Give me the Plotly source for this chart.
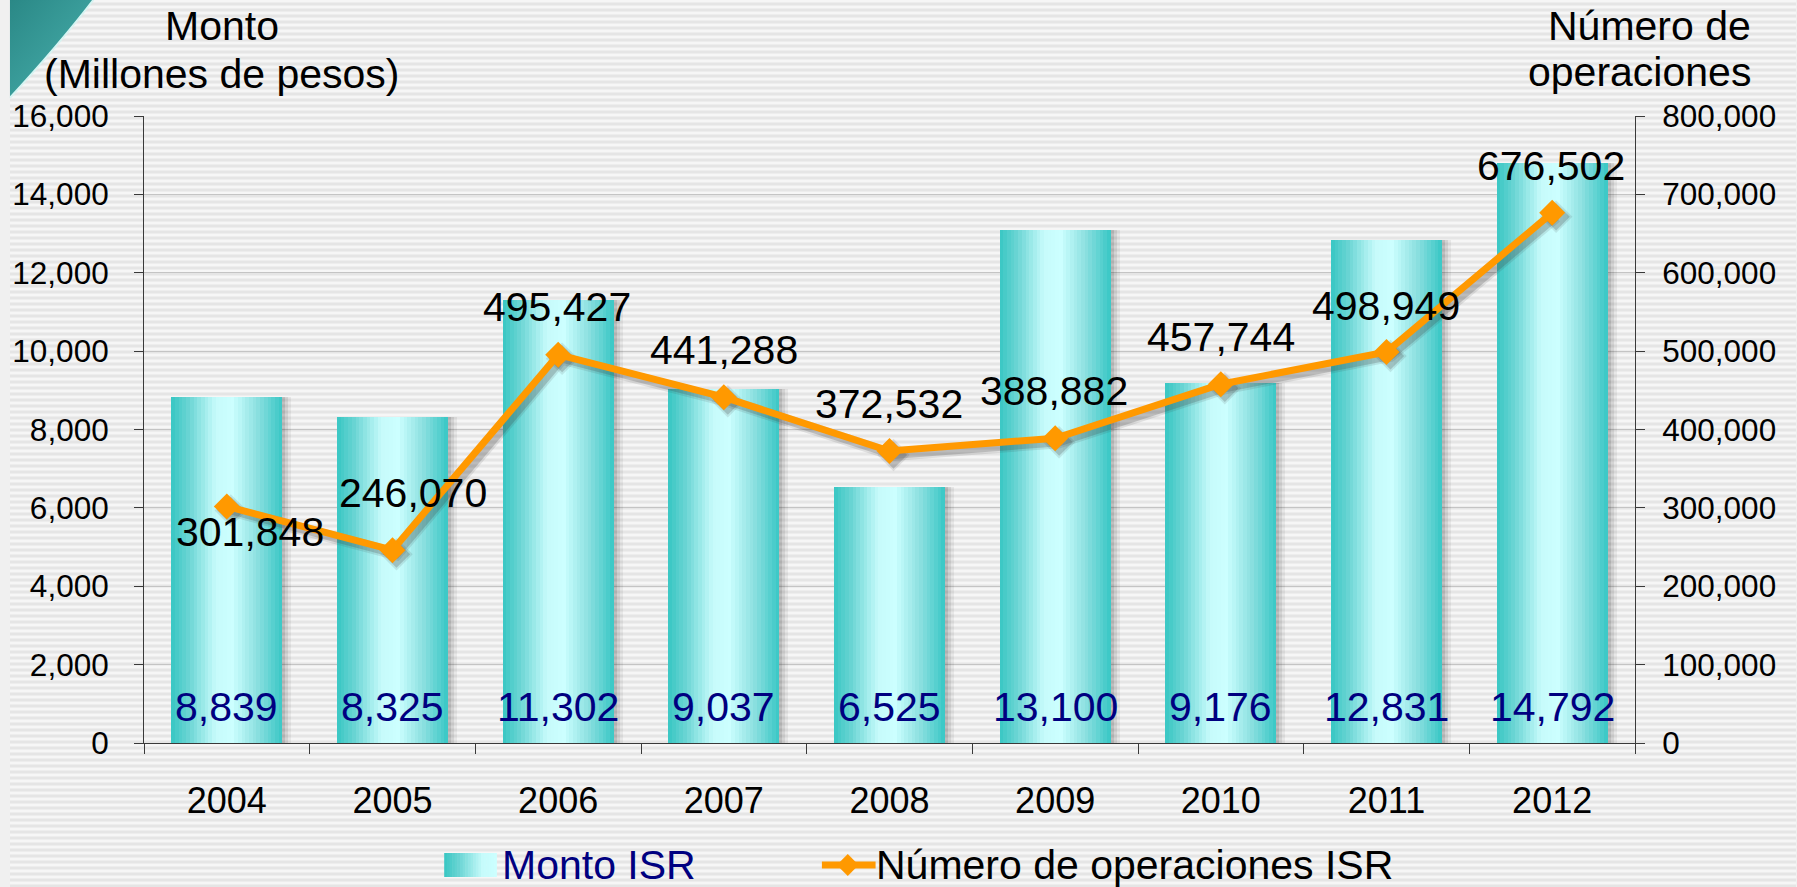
import base64
import plotly.graph_objects as go

# ---- data -------------------------------------------------------------
years = ["2004", "2005", "2006", "2007", "2008", "2009", "2010", "2011", "2012"]
monto_isr = [8839, 8325, 11302, 9037, 6525, 13100, 9176, 12831, 14792]
operaciones_isr = [301848, 246070, 495427, 441288, 372532, 388882, 457744, 498949, 676502]

monto_ticks = [0, 2000, 4000, 6000, 8000, 10000, 12000, 14000, 16000]
oper_ticks = [0, 100000, 200000, 300000, 400000, 500000, 600000, 700000, 800000]

# pixel offsets of the line's value labels relative to each point
oper_label_dx = [23, 20, -1, 0, -1, -1, 0, -1, -1]
oper_label_dy = [-26, 57, 48, 47, 47, 47, 47, 46, 47]

# ---- page geometry ----------------------------------------------------
W, H = 1797, 887
ML, MR, MT, MB = 135, 162, 116, 144
PW, PH = W - ML - MR, H - MT - MB


def px_x(p):
    return (p - ML) / PW


def px_y(p):
    return (H - MB - p) / PH


FONT = "Arial, 'Liberation Sans', sans-serif"
AXIS_COLOR = "#3a3a3a"
ORANGE = "#ff9900"
NAVY = "#000080"

BAR_W = 0.67
X_PER_PX = len(years) / PW
idx = list(range(len(years)))

# horizontal "cylinder" gradient of the bars
grad_stops = [
    (0.00, (0x38, 0xc6, 0xc3)),
    (0.15, (0x68, 0xd4, 0xd3)),
    (0.40, (0xc6, 0xfb, 0xfb)),
    (0.55, (0xcc, 0xff, 0xff)),
    (0.78, (0x8a, 0xdf, 0xdf)),
    (1.00, (0x38, 0xc7, 0xc5)),
]


def grad_color(t):
    for (t0, c0), (t1, c1) in zip(grad_stops[:-1], grad_stops[1:]):
        if t0 <= t <= t1:
            f = (t - t0) / (t1 - t0) if t1 > t0 else 0
            r, g, b = (round(a + (b_ - a) * f) for a, b_ in zip(c0, c1))
            return f"rgb({r},{g},{b})"
    r, g, b = grad_stops[-1][1]
    return f"rgb({r},{g},{b})"


fig = go.Figure()

# soft drop shadow to the right of every bar
for k, alpha in enumerate([0.10, 0.08, 0.06]):
    fig.add_trace(go.Bar(
        x=years, y=monto_isr, width=BAR_W,
        offset=-BAR_W / 2 + (3 + 3 * k) * X_PER_PX,
        marker=dict(color=f"rgba(0,0,0,{alpha})", line=dict(width=0)),
        showlegend=False, hoverinfo="skip",
    ))

# bars built from thin vertical strips to get the gradient fill
N_STRIPS = 30
strip = BAR_W / N_STRIPS
for k in range(N_STRIPS):
    w = strip * 1.15 if k < N_STRIPS - 1 else strip
    fig.add_trace(go.Bar(
        x=years, y=monto_isr, width=w, offset=-BAR_W / 2 + k * strip,
        marker=dict(color=grad_color((k + 0.5) / N_STRIPS), line=dict(width=0)),
        name="Monto ISR", showlegend=False, hoverinfo="skip",
    ))

# blurred shadow of the line (axes x2/y3 are shifted a few pixels right and
# down); the line itself sits on x3/y2 so it is layered above its shadow
SH = 4
for lw, ms, alpha in [(12, 25, 0.12), (8, 21, 0.22)]:
    fig.add_trace(go.Scatter(
        x=years, y=operaciones_isr, xaxis="x2", yaxis="y3", mode="lines+markers",
        line=dict(color=f"rgba(60,60,60,{alpha})", width=lw),
        marker=dict(symbol="diamond", size=ms, color=f"rgba(60,60,60,{alpha})"),
        showlegend=False, hoverinfo="skip",
    ))
fig.add_trace(go.Scatter(
    x=years, y=operaciones_isr, xaxis="x3", yaxis="y2", mode="lines+markers",
    name="Número de operaciones ISR",
    line=dict(color=ORANGE, width=7),
    marker=dict(symbol="diamond", size=20, color=ORANGE, line=dict(width=0)),
    showlegend=False,
))

annotations = []
for i, v in zip(idx, monto_isr):
    annotations.append(dict(
        x=i, y=0, xref="x", yref="y", yshift=36, text=f"{v:,}", showarrow=False,
        font=dict(family=FONT, size=41, color=NAVY), xanchor="center", yanchor="middle",
    ))
for i, v, dx, dy in zip(idx, operaciones_isr, oper_label_dx, oper_label_dy):
    annotations.append(dict(
        x=i, y=v, xref="x", yref="y2", xshift=dx, yshift=dy, text=f"{v:,}",
        showarrow=False, font=dict(family=FONT, size=41, color="black"),
        xanchor="center", yanchor="middle",
    ))

title_font = dict(family=FONT, size=41, color="black")
for txt, x, y, anchor in [
    ("Monto", 213, 26, "center"),
    ("(Millones de pesos)", 213, 74, "center"),
    ("Número de", 1754, 26, "right"),
    ("operaciones", 1754, 72, "right"),
]:
    annotations.append(dict(
        x=px_x(x), y=px_y(y), xref="paper", yref="paper", text=txt, showarrow=False,
        font=title_font, xanchor=anchor, yanchor="middle",
    ))

# ---- legend (drawn by hand: gradient swatch and line-with-diamond key) ----
LEG_Y = 865
LEG_FONT = 41
shapes = []
sw_x0, sw_x1, sw_h = 437, 490, 24
n_sw = 20
for k in range(n_sw):
    t = (k + 0.5) / n_sw
    shapes.append(dict(
        type="rect", xref="paper", yref="paper", layer="above",
        x0=px_x(sw_x0 + (sw_x1 - sw_x0) * k / n_sw),
        x1=px_x(sw_x0 + (sw_x1 - sw_x0) * (k + 1.2) / n_sw if k < n_sw - 1 else sw_x1),
        y0=px_y(LEG_Y + sw_h / 2), y1=px_y(LEG_Y - sw_h / 2),
        fillcolor=grad_color(0.55 * t), line=dict(width=0),
    ))
annotations.append(dict(
    x=px_x(493), y=px_y(LEG_Y), xref="paper", yref="paper", text="Monto ISR",
    showarrow=False, xanchor="left", yanchor="middle",
    font=dict(family=FONT, size=LEG_FONT, color=NAVY),
))
shapes.append(dict(
    type="line", xref="paper", yref="paper", layer="above",
    x0=px_x(817), x1=px_x(871), y0=px_y(LEG_Y), y1=px_y(LEG_Y),
    line=dict(color=ORANGE, width=7),
))
dm, dcx = 11, 843
shapes.append(dict(
    type="path", xref="paper", yref="paper", layer="above",
    path=(f"M {px_x(dcx - dm)},{px_y(LEG_Y)} L {px_x(dcx)},{px_y(LEG_Y - dm)} "
          f"L {px_x(dcx + dm)},{px_y(LEG_Y)} L {px_x(dcx)},{px_y(LEG_Y + dm)} Z"),
    fillcolor=ORANGE, line=dict(width=0),
))
annotations.append(dict(
    x=px_x(869), y=px_y(LEG_Y), xref="paper", yref="paper",
    text="Número de operaciones ISR", showarrow=False, xanchor="left", yanchor="middle",
    font=dict(family=FONT, size=LEG_FONT, color="black"),
))

# striped slide background with the teal corner sweep
svg = f"""<svg xmlns='http://www.w3.org/2000/svg' width='{W}' height='{H}'>
<defs>
<pattern id='st' width='10' height='6' patternUnits='userSpaceOnUse'>
<rect width='10' height='6' fill='#f6f6f6'/>
<rect y='2' width='10' height='1' fill='#ededed'/>
<rect y='3' width='10' height='2' fill='#e5e5e5'/>
<rect y='5' width='10' height='1' fill='#ededed'/>
</pattern>
<linearGradient id='tl' x1='0' y1='0' x2='1' y2='1'>
<stop offset='0' stop-color='#2a8886'/><stop offset='1' stop-color='#4ab2af'/>
</linearGradient>
</defs>
<rect width='{W}' height='{H}' fill='url(#st)'/>
<path d='M0,0 L84,0 Q50,44 0,98 Z' fill='url(#tl)'/>
<path d='M84,0 Q50,44 0,98' stroke='#d6f4f2' stroke-width='2' fill='none'/>
</svg>"""
bg_src = "data:image/svg+xml;base64," + base64.b64encode(svg.encode()).decode()

tick_font = dict(family=FONT, size=31.5, color="black")
y_range = [0, 16000]
y2_range = [0, 800000]
x_range = [-0.5, len(years) - 0.5]
sh_x = SH * X_PER_PX
sh_y = SH * (y2_range[1] - y2_range[0]) / PH

fig.update_layout(
    width=W, height=H,
    margin=dict(l=ML, r=MR, t=MT, b=MB),
    paper_bgcolor="#f0f0f0", plot_bgcolor="rgba(0,0,0,0)",
    font=dict(family=FONT, color="black"),
    barmode="overlay", bargap=0, showlegend=False,
    images=[dict(source=bg_src, xref="paper", yref="paper", x=px_x(0), y=px_y(0),
                 sizex=W / PW, sizey=H / PH, xanchor="left", yanchor="top",
                 sizing="stretch", layer="below")],
    xaxis=dict(
        type="category", range=x_range, showgrid=False,
        showline=True, linecolor=AXIS_COLOR, linewidth=1,
        ticks="outside", ticklen=10, tickcolor=AXIS_COLOR, tickson="boundaries",
        tickfont=dict(family=FONT, size=36, color="black"), ticklabelstandoff=26,
        fixedrange=True,
    ),
    xaxis2=dict(type="category", overlaying="x", visible=False,
                range=[x_range[0] - sh_x, x_range[1] - sh_x]),
    xaxis3=dict(type="category", overlaying="x", visible=False, range=x_range),
    yaxis=dict(
        range=y_range, tickvals=monto_ticks, tickformat=",d",
        showgrid=True, gridcolor="#c4c4c4", gridwidth=1, zeroline=False,
        showline=True, linecolor=AXIS_COLOR, linewidth=1,
        ticks="outside", ticklen=9, tickcolor=AXIS_COLOR,
        tickfont=tick_font, ticklabelstandoff=19,
    ),
    yaxis2=dict(
        range=y2_range, tickvals=oper_ticks, tickformat=",d", overlaying="y",
        side="right", showgrid=False, zeroline=False,
        showline=True, linecolor=AXIS_COLOR, linewidth=1,
        ticks="outside", ticklen=9, tickcolor=AXIS_COLOR,
        tickfont=tick_font, ticklabelstandoff=11,
    ),
    yaxis3=dict(overlaying="y", visible=False,
                range=[y2_range[0] + sh_y, y2_range[1] + sh_y]),
    annotations=annotations,
    shapes=shapes,
)

fig.write_html("out.html")
